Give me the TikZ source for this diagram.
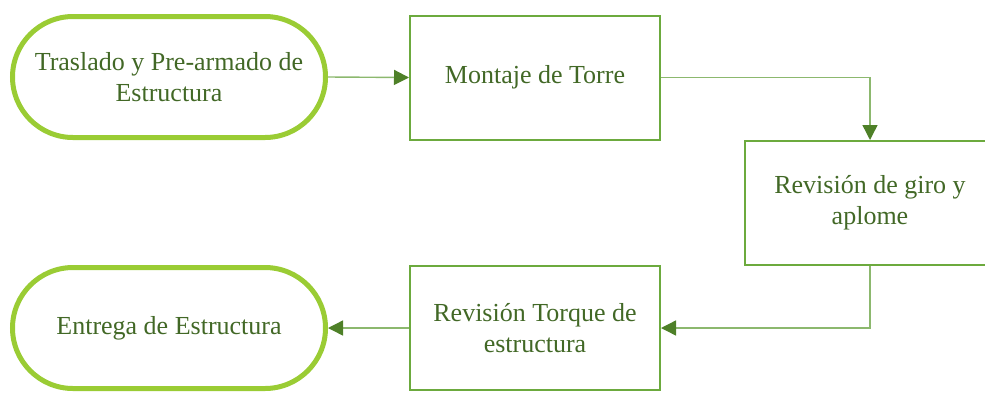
\documentclass[tikz,border=0pt]{standalone}
\usepackage{fontspec}
\setmainfont{Liberation Serif}
\usetikzlibrary{arrows.meta,shapes.misc}
\definecolor{txtgreen}{RGB}{66,104,38}
\definecolor{stadgreen}{RGB}{154,204,52}
\definecolor{boxgreen}{RGB}{108,170,62}
\definecolor{linegreen}{RGB}{140,184,110}
\definecolor{headgreen}{RGB}{78,128,40}
\tikzset{
  stadium/.style={rounded rectangle, draw=stadgreen, line width=5pt,
    minimum width=313pt, minimum height=121pt, inner sep=0pt,
    align=center, text=txtgreen, font=\fontsize{26pt}{31pt}\selectfont},
  procbox/.style={rectangle, draw=boxgreen, line width=2pt,
    minimum width=250pt, minimum height=124pt, inner sep=0pt,
    align=center, text=txtgreen, font=\fontsize{26pt}{31pt}\selectfont},
  flow/.style={draw=linegreen, line width=1.4pt,
    -{Triangle[length=15pt,width=15pt,color=headgreen]}}
}
\begin{document}
\begin{tikzpicture}[x=1pt,y=-1pt]
\path[use as bounding box, clip] (0,0) rectangle (985,392);
\node[stadium] (s1) at (169,77) {Traslado y Pre-armado de\\Estructura};
\node[procbox] (b1) at (535,77.5) {Montaje de Torre};
\node[procbox] (b2) at (870,203) {Revisión de giro y\\aplome};
\node[procbox] (b3) at (535,328) {Revisión Torque de\\estructura};
\node[stadium] (s2) at (169,328) {Entrega de Estructura};
\draw[flow] (s1.east) -- (b1.west);
\draw[flow] (b1.east) -| (b2.north);
\draw[flow] (b2.south) |- (b3.east);
\draw[flow] (b3.west) -- (s2.east);
\end{tikzpicture}
\end{document}
